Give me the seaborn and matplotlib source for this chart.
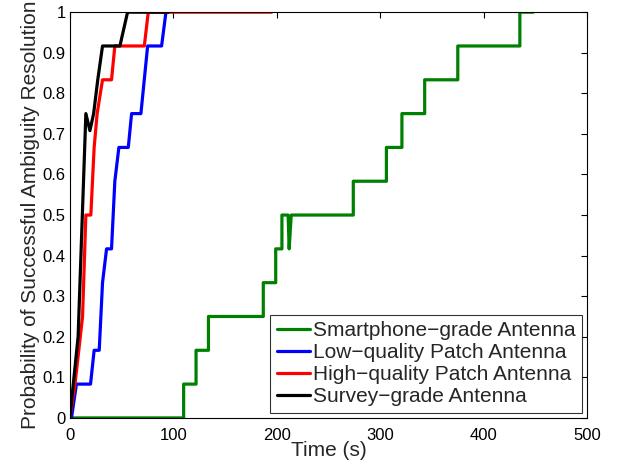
import numpy as np
import pandas as pd
import matplotlib
matplotlib.use("Agg")
import matplotlib.pyplot as plt
import seaborn as sns

sns.set_theme(style="white")
plt.rcParams['font.family'] = ['Liberation Sans', 'DejaVu Sans']

# Data
smart_t = [0, 110, 110, 122, 122, 134, 134, 187, 187, 199, 199, 205, 205, 211, 212, 214, 274, 274, 306, 306, 321, 321, 343, 343, 375, 375, 435, 435, 448]
smart_p = [0, 0, 1/12, 1/12, 2/12, 2/12, 3/12, 3/12, 4/12, 4/12, 5/12, 5/12, 6/12, 6/12, 5/12, 6/12, 6/12, 7/12, 7/12, 8/12, 8/12, 9/12, 9/12, 10/12, 10/12, 11/12, 11/12, 1, 1]

low_t = [1.6, 6.4, 20, 23.5, 28.4, 31.6, 35.5, 40.3, 43.5, 47.4, 56.5, 59.7, 68.7, 75.2, 88.7, 92.9, 95]
low_p = [0, 1/12, 1/12, 2/12, 2/12, 4/12, 5/12, 5/12, 7/12, 8/12, 8/12, 9/12, 9/12, 11/12, 11/12, 1, 1]

high_t = [0, 5, 12.3, 15.5, 20.3, 23.5, 26.4, 31.6, 40.3, 43.5, 72, 75.8, 195]
high_p = [0, 1/12, 3/12, 6/12, 6/12, 8/12, 9/12, 10/12, 10/12, 11/12, 11/12, 1, 1]

survey_t = [0, 8, 15.5, 19.4, 23, 27, 31.6, 48.4, 55.8, 95]
survey_p = [0, 0.2, 9/12, 0.708, 9/12, 10/12, 11/12, 11/12, 1, 1]

labels = ['Smartphone\u2212grade Antenna', 'Low\u2212quality Patch Antenna',
          'High\u2212quality Patch Antenna', 'Survey\u2212grade Antenna']
colors = ['#008000', '#0000ff', '#ff0000', '#000000']
series = [(smart_t, smart_p), (low_t, low_p), (high_t, high_p), (survey_t, survey_p)]

fig = plt.figure(figsize=(6.18, 4.68), dpi=100)
ax = fig.add_axes([0.113, 0.107, 0.837, 0.867])

for (t, p), lab, c in zip(series, labels, colors):
    sns.lineplot(x=t, y=p, ax=ax, color=c, lw=2.3, sort=False, estimator=None, label=lab)

ax.set_xlim(0, 500)
ax.set_ylim(0, 1)
ax.set_xticks([0, 100, 200, 300, 400, 500])
ax.set_yticks(np.round(np.arange(0, 1.01, 0.1), 1))
ax.set_yticklabels(['0', '0.1', '0.2', '0.3', '0.4', '0.5', '0.6', '0.7', '0.8', '0.9', '1'])
ax.set_xlabel('Time (s)', fontsize=15, labelpad=-1)
ax.set_ylabel('Probability of Successful Ambiguity Resolution', fontsize=15, labelpad=2)
ax.tick_params(direction='in', length=4, width=0.8, top=True, right=True, labelsize=12, colors='black')
ax.tick_params(axis='x', pad=7)
ax.tick_params(axis='y', pad=3)
for s in ax.spines.values():
    s.set_color('black')
    s.set_linewidth(0.8)

leg = ax.legend(loc='lower right', fontsize=15, frameon=True, fancybox=False,
                edgecolor='black', handlelength=1.6, borderpad=0.3, labelspacing=0.15,
                handletextpad=0.15, borderaxespad=0.25)
leg.get_frame().set_linewidth(0.8)

fig.savefig('out.png', dpi=100, facecolor='white')
